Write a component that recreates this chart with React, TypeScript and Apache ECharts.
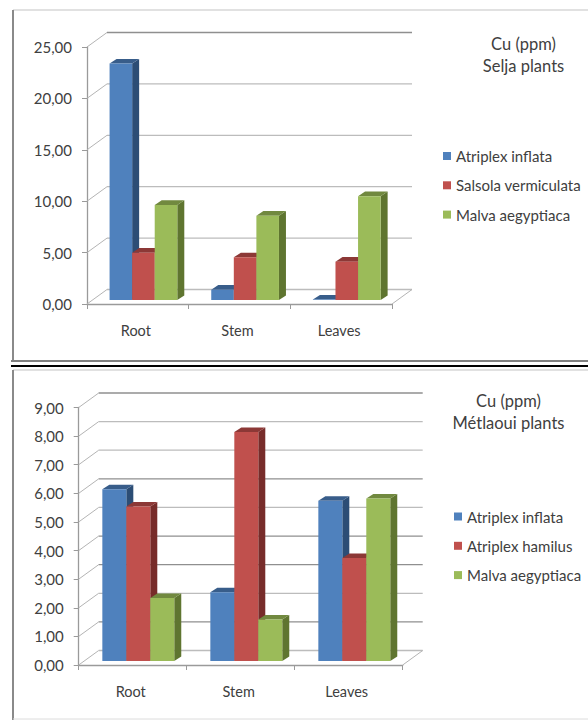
import React, { useEffect, useRef } from "react";
import * as echarts from "echarts";

const categories = ["Root", "Stem", "Leaves"];

const seljaTitle = "Cu (ppm)\nSelja plants";
const seljaNames = ["Atriplex inflata", "Salsola vermiculata", "Malva aegyptiaca"];
const seljaAtriplexInflata = [23.0, 1.0, 0.05];
const seljaSalsolaVermiculata = [4.6, 4.15, 3.73];
const seljaMalvaAegyptiaca = [9.25, 8.2, 10.1];
const seljaTicks = [0, 5, 10, 15, 20, 25];

const metlaouiTitle = "Cu (ppm)\nMétlaoui plants";
const metlaouiNames = ["Atriplex inflata", "Atriplex hamilus", "Malva aegyptiaca"];
const metlaouiAtriplexInflata = [6.0, 2.4, 5.6];
const metlaouiAtriplexHamilus = [5.4, 8.0, 3.6];
const metlaouiMalvaAegyptiaca = [2.2, 1.45, 5.68];
const metlaouiTicks = [0, 1, 2, 3, 4, 5, 6, 7, 8, 9];

const FONT = "Lato";
const TEXT = "#404040";
const FACES = [
  { front: "#4F81BD", top: "#385D8A", side: "#2C4D75" },
  { front: "#C0504D", top: "#8C3836", side: "#772C2A" },
  { front: "#9BBB59", top: "#71893F", side: "#5F7530" },
];
const WALL = { dx: 20, dy: 14.5 };
const BAR = { inset: 5.6, lift: 4, depthX: 7, depthY: 4.6, widthRatio: 0.222 };

const barItem = (slot: number) => (params: any, api: any) => {
  const cat = api.value(0);
  const top = api.coord([cat, api.value(1)]);
  const bottom = api.coord([cat, 0]);
  const w = api.size([1, 0])[0] * BAR.widthRatio;
  const x = top[0] + BAR.inset + (slot - 1.5) * w;
  const y = top[1] - BAR.lift;
  const h = bottom[1] - top[1];
  const f = FACES[slot];
  const dx = BAR.depthX;
  const dy = BAR.depthY;
  return {
    type: "group",
    children: [
      {
        type: "polygon",
        shape: { points: [[x + w, y], [x + w + dx, y - dy], [x + w + dx, y + h - dy], [x + w, y + h]] },
        style: { fill: f.side },
      },
      {
        type: "polygon",
        shape: { points: [[x, y], [x + dx, y - dy], [x + w + dx, y - dy], [x + w, y]] },
        style: { fill: f.top },
      },
      { type: "rect", shape: { x, y, width: w, height: h }, style: { fill: f.front } },
    ],
  };
};

const wallItem = (dark: number[]) => (params: any, api: any) => {
  const v = api.value(0);
  const c = params.coordSys;
  const y = api.coord([0, v])[1];
  const isDark = dark.indexOf(v) >= 0;
  const children: any[] = [
    {
      type: "polyline",
      shape: { points: [[c.x, y], [c.x + WALL.dx, y - WALL.dy]] },
      style: { stroke: "#b4b4b4", lineWidth: 1, fill: "none" },
    },
    {
      type: "line",
      shape: { x1: c.x + WALL.dx, y1: y - WALL.dy, x2: c.x + c.width + WALL.dx, y2: y - WALL.dy },
      style: { stroke: isDark ? "#8f8f8f" : "#bcbcbc", lineWidth: 1.3 },
    },
  ];
  if (v === 0) {
    children.push({
      type: "line",
      shape: { x1: c.x + c.width, y1: y, x2: c.x + c.width + WALL.dx, y2: y - WALL.dy },
      style: { stroke: "#b4b4b4", lineWidth: 1 },
    });
  }
  return { type: "group", children };
};

const axisLine = { show: true, lineStyle: { color: "#9a9a9a", width: 1.3 } };
const axisTick = { show: true, length: 5, lineStyle: { color: "#9a9a9a", width: 1 } };

function chartParts(idx: number, names: string[], ticks: number[], values: number[][], dark: number[]) {
  const xAxis = {
    type: "category",
    gridIndex: idx,
    data: categories,
    boundaryGap: true,
    axisLine,
    axisTick: { ...axisTick, alignWithLabel: false },
    axisLabel: { color: TEXT, fontFamily: FONT, fontSize: 14.5, margin: 19, padding: [0, 4, 0, 0] },
    splitLine: { show: false },
  };
  const yAxis = {
    type: "value",
    gridIndex: idx,
    min: ticks[0],
    max: ticks[ticks.length - 1],
    interval: ticks[1] - ticks[0],
    axisLine,
    axisTick,
    axisLabel: {
      color: TEXT,
      fontFamily: FONT,
      fontSize: 15,
      margin: 15,
      formatter: (v: number) => v.toFixed(2).replace(".", ","),
    },
    splitLine: { show: false },
  };
  const series: any[] = [
    {
      type: "custom",
      name: "wall" + idx,
      xAxisIndex: idx,
      yAxisIndex: idx,
      z: 1,
      silent: true,
      encode: { y: 0 },
      data: ticks.map((t) => [t]),
      renderItem: wallItem(dark),
    },
    ...values.map((vals, slot) => ({
      type: "custom",
      name: names[slot],
      xAxisIndex: idx,
      yAxisIndex: idx,
      z: 3,
      itemStyle: { color: FACES[slot].front },
      encode: { x: 0, y: 1 },
      data: vals.map((v, i) => [i, v]),
      renderItem: barItem(slot),
    })),
  ];
  return { xAxis, yAxis, series };
}

const frameLine = (x1: number, y1: number, x2: number, y2: number, stroke: string, lineWidth: number) => ({
  type: "line",
  shape: { x1, y1, x2, y2 },
  style: { stroke, lineWidth },
  silent: true,
});

export default function App() {
  const ref = useRef<HTMLDivElement>(null);
  useEffect(() => {
    if (!ref.current) return;
    const chart = echarts.init(ref.current, undefined, { renderer: "svg" });
    const a = chartParts(
      0,
      seljaNames,
      seljaTicks,
      [seljaAtriplexInflata, seljaSalsolaVermiculata, seljaMalvaAegyptiaca],
      [25]
    );
    const b = chartParts(
      1,
      metlaouiNames,
      metlaouiTicks,
      [metlaouiAtriplexInflata, metlaouiAtriplexHamilus, metlaouiMalvaAegyptiaca],
      [1, 3, 4, 6, 9]
    );
    const legendBase = {
      orient: "vertical",
      icon: "rect",
      itemWidth: 8,
      itemHeight: 8,
      itemGap: 14.3,
      selectedMode: false,
      textStyle: { color: TEXT, fontFamily: FONT, fontSize: 15 },
    };
    const titleStyle = { color: TEXT, fontFamily: FONT, fontSize: 16.5, fontWeight: "normal", lineHeight: 22 };
    chart.setOption({
      animation: false,
      backgroundColor: "#ffffff",
      grid: [
        { left: 87, top: 47, width: 305, height: 257 },
        { left: 78.7, top: 407.5, width: 324, height: 257.5 },
      ],
      xAxis: [a.xAxis, b.xAxis],
      yAxis: [a.yAxis, b.yAxis],
      series: [...a.series, ...b.series],
      title: [
        { text: seljaTitle, left: 518.5, top: 28, textAlign: "center", textStyle: titleStyle },
        { text: metlaouiTitle, left: 503.5, top: 385, textAlign: "center", textStyle: titleStyle },
      ],
      legend: [
        { ...legendBase, data: seljaNames, left: 438, top: 143.5 },
        { ...legendBase, data: metlaouiNames, left: 449, top: 504 },
      ],
      graphic: [
        frameLine(13, 10, 588, 10, "#c4c4c4", 1.2),
        frameLine(13, 10, 13, 361, "#8a8a8a", 2),
        frameLine(11, 361, 588, 361, "#808080", 2),
        frameLine(11, 366, 588, 366, "#000000", 2),
        frameLine(13, 370, 588, 370, "#c4c4c4", 1.2),
        frameLine(13, 370, 13, 720, "#8a8a8a", 2),
        frameLine(13, 719, 588, 719, "#dcdcdc", 1),
      ],
    });
    return () => chart.dispose();
  }, []);
  return <div ref={ref} style={{ position: "fixed", left: 0, top: 0, width: 588, height: 720 }} />;
}
